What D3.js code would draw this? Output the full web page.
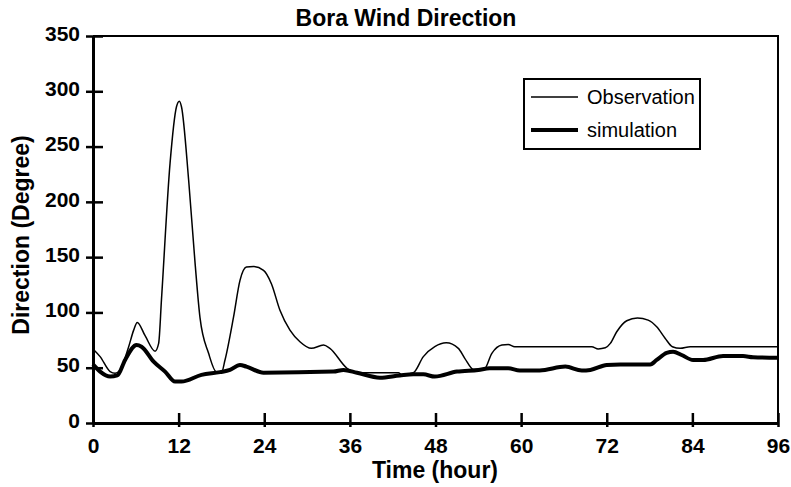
<!DOCTYPE html>
<style>
body { margin: 0; background: #fff; }
svg { font-family: Arial, "Liberation Sans", sans-serif; }
</style>
<body></body>
<script src="https://d3js.org/d3.v7.min.js"></script>
<script>
// hours and direction (degree)
const obsHours = [0, 1, 2.4, 3.1, 3.8, 5, 5.7, 6.2, 7.3, 8.7, 9.2, 9.6, 10.8, 11.7, 12.1, 12.4, 13.4, 14.3, 15, 16.2,
    17.3, 18, 18.5, 19.7, 20.6, 21.5, 22.5, 23.9, 25, 26.2, 27.6, 29, 30.6, 32.3, 33.2, 35.6, 37.4, 42.8, 43.3, 44.9,
    46.3, 47.9, 49.5, 51.2, 52.1, 53.4, 54.8, 55.9, 57.3, 58.2, 59.1, 69.9, 70.8, 71.8, 72.5, 73.4, 74.8, 76.3, 77.8,
    79, 80.2, 81.2, 82.3, 83.7, 96]
const obsValues = [67, 60, 46.5, 45, 48, 69, 84, 91, 79, 65, 72, 112, 235, 286, 291, 286, 220, 145, 95, 63,
    46, 45.5, 57, 96, 129, 141, 141.5, 138, 126, 102, 84, 73.5, 67.5, 70.5, 67.5, 49.5, 45.5, 45.5, 43.5, 45.5,
    60, 69, 72.5, 67.5, 58.5, 48, 48.5, 63, 70.5, 71, 69, 69, 67, 68, 72, 82.5, 92.5, 95, 93,
    87, 76.5, 69, 67.5, 69, 69]

const simHours = [0, 1, 2.4, 3.4, 4.5, 6.1, 6.8, 8.5, 10.1, 11.5, 12.4, 15.2, 17.8, 19.2, 20.6, 21.5, 23.9, 33.7,
    35.1, 37, 40.2, 43, 44.9, 46.3, 47.9, 51, 54, 55.6, 58.2, 59.8, 62.6, 66.2, 68.5, 69.7, 72, 73.9, 78.1, 79,
    80.4, 81.3, 82.5, 84.1, 85.5, 88.3, 91.1, 92.5, 96]
const simValues = [53, 46.5, 42, 43, 57, 70.5, 69, 55.5, 46.5, 37.5, 37.5, 43.5, 46, 48, 52.5, 51, 45.5, 46.5,
    48, 45.5, 41, 43, 44, 44, 42, 46.5, 48, 49.5, 49.5, 47.5, 47.5, 51, 47.5, 48, 52.5, 53, 53, 57,
    63.5, 64.5, 61.5, 57, 57, 60.5, 60.5, 59.5, 59]

const xTicks = [0, 12, 24, 36, 48, 60, 72, 84, 96]
const yTicks = [0, 50, 100, 150, 200, 250, 300, 350]

const width = 791
const height = 487
const margins = { top: 36, right: 13, bottom: 64, left: 93 }

const svg = d3.select('body')
    .append('svg')
        .attr('width', width)
        .attr('height', height)

const x = d3.scaleLinear().domain([0, 96]).range([margins.left, width - margins.right])
const y = d3.scaleLinear().domain([0, 350]).range([height - margins.bottom, margins.top])

// frame: top and right
svg.append('path')
    .attr('d', `M${x(0)},${y(350)}H${x(96)}V${y(0)}`)
    .attr('fill', 'none')
    .attr('stroke', '#000')
    .attr('stroke-width', 2)

const xAxis = svg.append('g')
    .attr('transform', `translate(0,${y(0)})`)
    .call(d3.axisBottom(x).tickValues(xTicks).tickSizeOuter(0))
xAxis.select('.domain').attr('stroke-width', 3)
xAxis.selectAll('.tick line').attr('y1', -10).attr('y2', 4).attr('stroke-width', 2.5)
xAxis.selectAll('.tick text')
    .attr('y', 30).attr('dy', 0)
    .attr('font-size', 21).attr('font-weight', 'bold').attr('fill', '#000')

const yAxis = svg.append('g')
    .attr('transform', `translate(${x(0)},0)`)
    .call(d3.axisLeft(y).tickValues(yTicks).tickSizeOuter(0))
yAxis.select('.domain').attr('stroke-width', 3)
yAxis.selectAll('.tick line').attr('x1', 10).attr('x2', -7).attr('stroke-width', 2.5)
yAxis.selectAll('.tick text')
    .attr('x', -13).attr('dy', '0.2em')
    .attr('font-size', 21).attr('font-weight', 'bold').attr('fill', '#000')

const line = d3.line()
    .x(d => x(d[0]))
    .y(d => y(d[1]))
    .curve(d3.curveMonotoneX)

svg.append('path')
    .datum(d3.zip(obsHours, obsValues))
    .attr('d', line)
    .attr('fill', 'none')
    .attr('stroke', '#000')
    .attr('stroke-width', 1.5)

svg.append('path')
    .datum(d3.zip(simHours, simValues))
    .attr('d', line)
    .attr('fill', 'none')
    .attr('stroke', '#000')
    .attr('stroke-width', 4)

// titles
svg.append('text')
    .attr('x', 406).attr('y', 26)
    .attr('text-anchor', 'middle')
    .attr('font-size', 23).attr('font-weight', 'bold')
    .text('Bora Wind Direction')

svg.append('text')
    .attr('x', 435).attr('y', 478)
    .attr('text-anchor', 'middle')
    .attr('font-size', 23).attr('font-weight', 'bold')
    .text('Time (hour)')

svg.append('text')
    .attr('transform', 'translate(29,235) rotate(-90)')
    .attr('text-anchor', 'middle')
    .attr('font-size', 23).attr('font-weight', 'bold')
    .text('Direction (Degree)')

// legend
const legend = svg.append('g')
legend.append('rect')
    .attr('x', 524).attr('y', 79).attr('width', 176).attr('height', 70)
    .attr('fill', '#fff').attr('stroke', '#000').attr('stroke-width', 2)

const legendItems = [
    { label: 'Observation', width: 1.5, y: 97 },
    { label: 'simulation', width: 4, y: 130 }
]
legendItems.forEach(d => {
    legend.append('line')
        .attr('x1', 531).attr('x2', 578).attr('y1', d.y).attr('y2', d.y)
        .attr('stroke', '#000').attr('stroke-width', d.width)
    legend.append('text')
        .attr('x', 587).attr('y', d.y + 7)
        .attr('font-size', 20)
        .text(d.label)
})
</script>
